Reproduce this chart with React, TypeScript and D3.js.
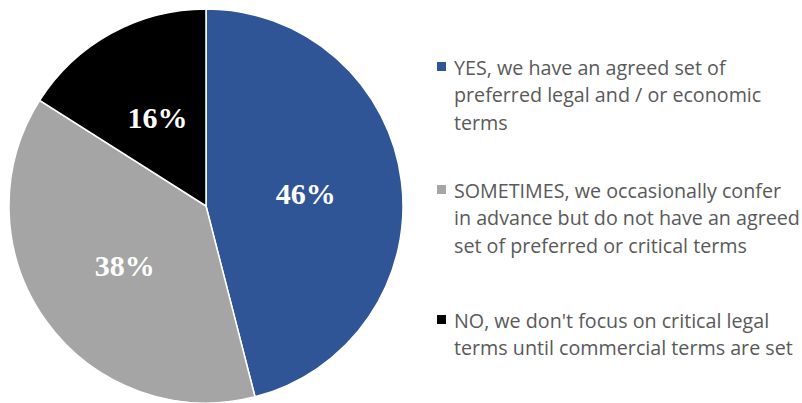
import React from "react";
import * as d3 from "d3";

const categories = ["YES", "SOMETIMES", "NO"];
const values = [46, 38, 16];
const colors = ["#2F5597", "#A5A5A5", "#000000"];
const legendLines = [
  ["YES, we have an agreed set of", "preferred legal and / or economic", "terms"],
  ["SOMETIMES, we occasionally confer", "in advance but do not have an agreed", "set of preferred or critical terms"],
  ["NO, we don't focus on critical legal", "terms until commercial terms are set"],
];

const W = 802, H = 403;
const cx = 206, cy = 206, R = 197;
const legendY = [67, 190, 320];

export default function App() {
  const pie = d3.pie<number>().sort(null).value((d) => d)(values);
  const arc = d3.arc<d3.PieArcDatum<number>>().innerRadius(0).outerRadius(R);
  const labelArc = d3.arc<d3.PieArcDatum<number>>().innerRadius(R * 0.51).outerRadius(R * 0.51);
  return (
    <svg width={W} height={H} style={{ position: "absolute", left: 0, top: 0 }}>
      <rect width={W} height={H} fill="#fff" />
      <g transform={`translate(${cx},${cy})`}>
        {pie.map((p, i) => (
          <path key={categories[i]} d={arc(p) || ""} fill={colors[i]} stroke="#fff" strokeWidth={1.5} />
        ))}
        {pie.map((p, i) => {
          const [x, y] = labelArc.centroid(p);
          return (
            <text key={"l" + i} x={x} y={y} textAnchor="middle" dominantBaseline="central"
              fill="#fff" fontFamily="Liberation Serif, serif" fontWeight="bold" fontSize={30}>
              {values[i]}%
            </text>
          );
        })}
      </g>
      {legendLines.map((lines, i) => (
        <g key={"lg" + i}>
          <rect x={437} y={legendY[i] - 5} width={9} height={9} fill={colors[i]} />
          {lines.map((t, j) => (
            <text key={j} x={454} y={legendY[i] + j * 27.5} dominantBaseline="central"
              fill="#595959" fontFamily="Open Sans, sans-serif" fontSize={19.7}>
              {t}
            </text>
          ))}
        </g>
      ))}
    </svg>
  );
}
